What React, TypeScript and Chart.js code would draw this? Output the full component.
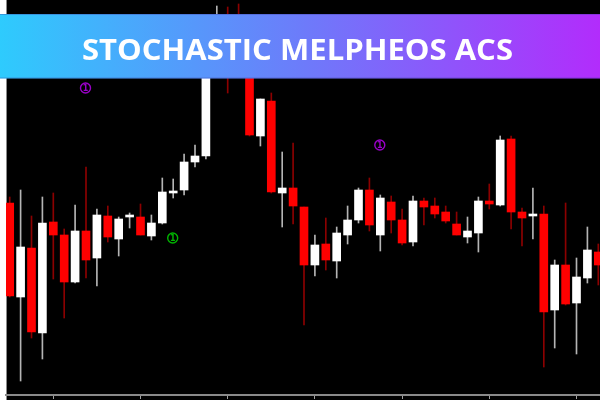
import React, { useEffect, useRef } from 'react';
import { Chart, registerables } from 'chart.js';

Chart.register(...registerables);

const TITLE = 'STOCHASTIC MELPHEOS ACS';

const opens = [197, 103, 152, 67, 178, 165, 118, 169, 142, 184, 161, 183, 183, 164, 177, 207, 210, 238, 244, 355, 377, 368, 338, 264, 299, 207, 212, 193, 135, 156, 139, 165, 180, 210, 165, 198, 180, 158, 199, 194, 188, 176, 163, 167, 199, 195, 261, 188, 184, 186, 90, 135, 97, 122, 148];
const closes = [104, 153, 68, 177, 165, 118, 169, 140, 185, 163, 181, 185, 165, 177, 208, 209, 238, 244, 355, 378, 335, 338, 265, 301, 208, 212, 194, 135, 155, 140, 167, 180, 210, 175, 202, 180, 157, 199, 193, 186, 179, 165, 169, 199, 196, 260, 188, 182, 186, 88, 135, 96, 123, 150, 135];
const highs = [203, 210, 184, 203, 207, 171, 195, 233, 191, 194, 183, 187, 196, 185, 222, 221, 246, 255, 362, 394, 393, 396, 345, 301, 307, 248, 257, 193, 165, 182, 173, 194, 212, 222, 205, 204, 191, 204, 202, 202, 194, 188, 183, 203, 216, 264, 264, 192, 212, 194, 140, 197, 142, 173, 156];
const lows = [103, 19, 62, 41, 121, 82, 117, 122, 114, 158, 144, 172, 165, 160, 176, 202, 205, 233, 241, 348, 307, 325, 264, 254, 207, 173, 176, 75, 124, 130, 122, 156, 177, 169, 149, 167, 155, 154, 175, 182, 177, 165, 157, 148, 191, 194, 171, 154, 161, 33, 52, 95, 46, 117, 115];

const markerIndex = [7, 34, 15];
const markerValue = [312, 255, 162];
const markerLabel = ['1', '1', '1'];
const markerColor = ['#9a00c8', '#9a00c8', '#00b400'];

const tickIndex = [4, 12, 20, 28, 36, 44, 52];

const UP_BODY = '#ffffff';
const DOWN_BODY = '#ff0000';
const UP_WICK = '#b4b4b4';
const DOWN_WICK = '#8c0000';

const overlayPlugin = {
  id: 'overlay',
  beforeDraw(chart: any) {
    const { ctx, width, height, chartArea } = chart;
    ctx.save();
    ctx.fillStyle = '#000000';
    ctx.fillRect(0, 0, width, height);
    ctx.fillStyle = '#ffffff';
    ctx.fillRect(0, 0, chartArea.left, height);
    ctx.fillStyle = '#8a8a8a';
    ctx.fillRect(chartArea.left, 0, 1, height);
    ctx.restore();
  },
  afterDraw(chart: any) {
    const { ctx, width, scales } = chart;
    const xs = scales.x;
    const ys = scales.y;
    ctx.save();
    markerIndex.forEach((idx, k) => {
      const px = xs.getPixelForValue(idx) - 0.5;
      const py = ys.getPixelForValue(markerValue[k]);
      ctx.strokeStyle = markerColor[k];
      ctx.fillStyle = markerColor[k];
      ctx.lineWidth = 1.4;
      ctx.beginPath();
      ctx.arc(px, py, 5, 0, Math.PI * 2);
      ctx.stroke();
      ctx.font = 'bold 8px "DejaVu Sans", sans-serif';
      ctx.textAlign = 'center';
      ctx.textBaseline = 'middle';
      ctx.fillText(markerLabel[k], px, py + 0.5);
    });
    const top = 14;
    const bottom = 78.5;
    const grad = ctx.createLinearGradient(0, 0, width, 0);
    grad.addColorStop(0, '#2ecbfd');
    grad.addColorStop(0.5, '#6c7cfa');
    grad.addColorStop(1, '#b22cfc');
    ctx.fillStyle = grad;
    ctx.fillRect(0, top, width, bottom - top);
    ctx.fillStyle = 'rgba(60,60,160,0.35)';
    ctx.fillRect(0, top, width, 1);
    ctx.fillRect(0, bottom - 1, width, 1);
    ctx.fillStyle = '#ffffff';
    ctx.font = 'bold 29px "Open Sans", sans-serif';
    ctx.textBaseline = 'alphabetic';
    ctx.textAlign = 'left';
    const w = ctx.measureText(TITLE).width;
    const target = 431;
    const sx = target / w;
    ctx.translate(82, 60);
    ctx.scale(sx, 1);
    ctx.fillText(TITLE, 0, 0);
    ctx.restore();
  },
};

export default function App() {
  const ref = useRef<HTMLCanvasElement | null>(null);

  useEffect(() => {
    if (!ref.current) return;
    const idx = opens.map((_, i) => i);
    const isUp = idx.map((i) => closes[i] >= opens[i]);
    const chart = new Chart(ref.current, {
      type: 'bar',
      data: {
        datasets: [
          {
            label: 'wick',
            data: idx.map((i) => ({ x: i, y: [lows[i], highs[i]] })) as any,
            backgroundColor: idx.map((i) => (isUp[i] ? UP_WICK : DOWN_WICK)),
            barThickness: 1,
            grouped: false,
            order: 2,
          },
          {
            label: 'body',
            data: idx.map((i) => ({ x: i, y: [opens[i], closes[i]] })) as any,
            backgroundColor: idx.map((i) => (isUp[i] ? UP_BODY : DOWN_BODY)),
            barThickness: 8,
            grouped: false,
            order: 1,
          },
        ],
      },
      options: {
        animation: false,
        responsive: false,
        maintainAspectRatio: false,
        layout: { padding: { left: 6, right: 0, top: 0, bottom: 1 } },
        plugins: { legend: { display: false }, tooltip: { enabled: false }, title: { display: false } },
        scales: {
          x: {
            type: 'linear',
            min: -0.3394,
            max: 54.156,
            offset: false,
            grid: { display: true, offset: false, drawOnChartArea: false, drawTicks: true, tickLength: 4, color: '#a0a0a0', lineWidth: 1 },
            border: { display: true, color: '#8a8a8a', width: 2 },
            ticks: { display: false },
            afterBuildTicks: (scale: any) => {
              scale.ticks = tickIndex.map((v) => ({ value: v }));
            },
          },
          y: {
            type: 'linear',
            display: false,
            min: 5,
            max: 400,
          },
        },
      },
      plugins: [overlayPlugin],
    });
    return () => chart.destroy();
  }, []);

  return (
    <div style={{ position: 'fixed', left: 0, top: 0, width: 600, height: 400 }}>
      <canvas ref={ref} width={600} height={400} style={{ width: 600, height: 400, display: 'block' }} />
    </div>
  );
}
